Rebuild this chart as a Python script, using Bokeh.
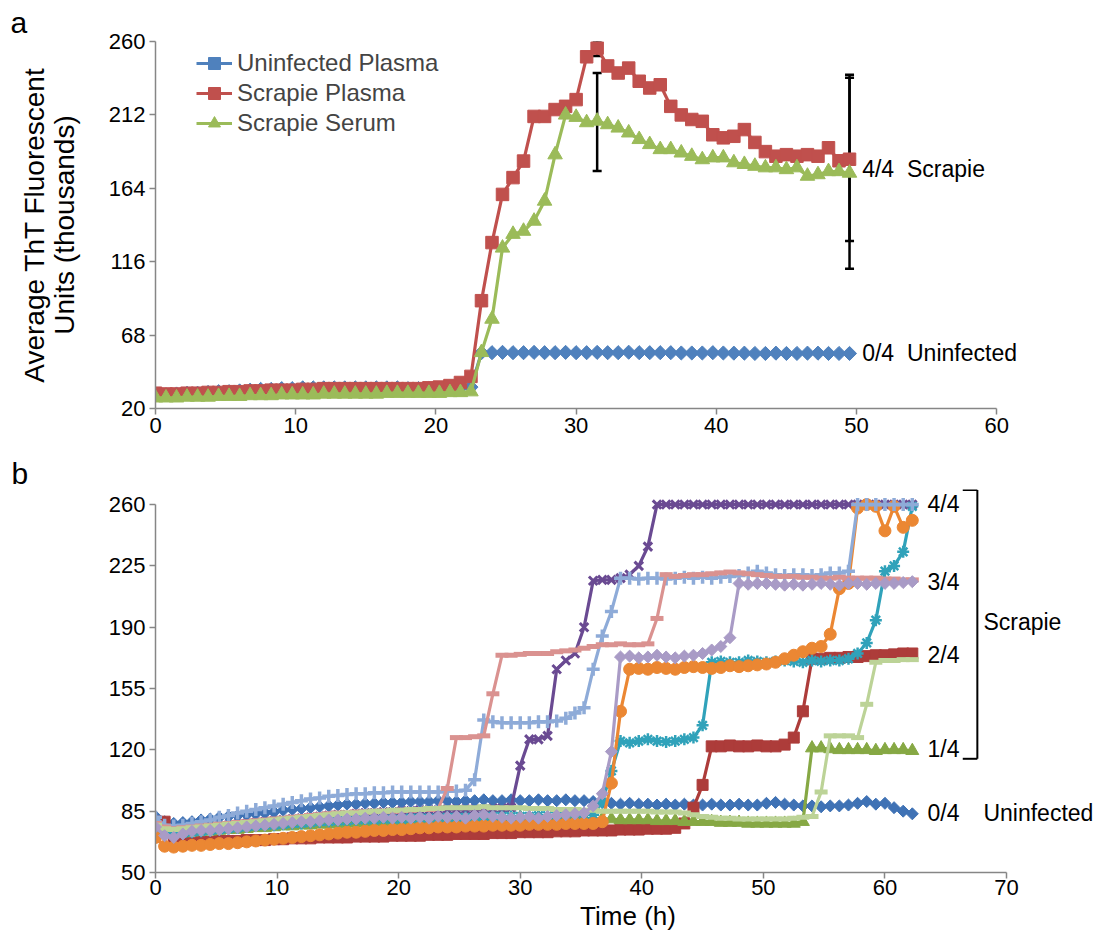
import numpy as np
from bokeh.plotting import figure
from bokeh.layouts import column
from bokeh.models import (Range1d, FixedTicker, Label, Whisker, TeeHead, ColumnDataSource, Arrow,
                          Title)
from bokeh.embed import file_html
from bokeh.resources import INLINE

FONT = "Liberation Sans"

# ---------------- Panel a data (sampled every 0.75 h) ----------------
time_a = [round(0.75 * i, 2) for i in range(67)]
uninfected_plasma = [29, 29, 29.5, 30, 30, 30.5, 31, 31, 31.5, 32, 32.5, 32.5, 33, 33, 33.5, 33.5, 33.5, 33.5, 33.5, 33.5,
                     33.5, 33.5, 33.5, 33.5, 33, 33, 33, 33, 33, 33.5, 34,
                     56.5, 56.5, 56.7, 56.5, 56.5, 56.7, 56.5, 56.5, 56.7, 56.5, 56.5, 56.7, 56.5, 56.5, 56.8, 56.5,
                     56.5, 56.5, 56.5, 56.3, 56.3, 56.3, 56.5, 56.3, 56.2, 56.2, 56, 56, 56.2, 56, 56, 56.2, 56.2, 56, 56, 56]
scrapie_plasma = [30, 29.5, 29.5, 30, 30, 30.5, 30.5, 31, 31, 31.5, 31.5, 32, 32, 32, 32.5, 32.5, 33, 33, 33, 33,
                  33, 33, 33, 33, 33, 33, 33.5, 34, 35, 37, 41,
                  90.5, 128.5, 160, 171, 181.8, 211, 211, 215.5, 217.6, 222, 250, 255.7, 244, 239.4, 242.6, 234,
                  229.6, 231.7, 217.6, 212, 209, 207.8, 199, 197, 198, 202.4, 194, 188, 185, 186, 185, 186, 185,
                  190.5, 182, 183]
scrapie_serum = [27, 27, 27, 27.5, 27.5, 27.5, 28, 28, 28, 28.5, 28.5, 28.5, 29, 29, 29, 29, 29.5, 29.5, 29.5, 29.5,
                 29.5, 29.5, 30, 30, 30, 30, 30, 30, 30.5, 30.5, 31,
                 56.7, 78.5, 125, 134, 136, 142.6, 155.7, 186, 212, 210.5, 207, 208, 205.7, 203.5, 200.3, 196,
                 192.7, 189.4, 189.4, 187.2, 185, 182.8, 184, 184, 180.8, 179.7, 178.5, 177.5, 177.5, 176.3, 177.5,
                 172, 173, 175, 175, 174]
err_time = [31.5, 31.5, 49.5, 49.5]
err_lower = [175.3, 250.5, 129.6, 111.4]
err_upper = [239.4, 260.0, 238.3, 236.3]
yticks_a = [20, 68, 116, 164, 212, 260]
xticks_a = [0, 10, 20, 30, 40, 50, 60]

# ---------------- Panel b data (sampled every 0.75 h) ----------------
time_b = [round(0.75 * i, 2) for i in range(84)]
s1 = [82, 79, 78, 78.5, 79, 80, 80.5, 81.5, 82, 82.5,
      83, 83.5, 84, 84.5, 85.5, 86, 86.5, 87, 87.5, 88,
      88.5, 89, 89, 89.5, 89.5, 90, 90, 90, 90.5, 90.5,
      90.5, 91, 91, 90.5, 91, 91, 91.5, 91, 91, 91.5,
      91, 91, 91.5, 91, 91, 91.5, 91, 91, 90.5, 90,
      89.5, 89, 89.5, 89, 89, 88.5, 89, 88.5, 89, 88.5,
      88.5, 89, 88.5, 88.5, 89, 88.5, 88.5, 89.5, 90, 89,
      88.5, 88, 88, 87.5, 88, 88, 88.5, 89.5, 90.5, 89,
      89.5, 87, 85, 83.5]
s2 = [79, 79, 68, 67, 67, 67.5, 67.5, 68, 68, 68,
      68.5, 68.5, 68.5, 69, 69, 69.5, 69.5, 69.5, 70, 70,
      70, 70, 70.5, 70.5, 70.5, 70.5, 71, 71, 71, 71,
      71.5, 71.5, 71.5, 72, 72, 72, 72, 72.5, 72.5, 72.5,
      73, 73, 73, 73, 73.5, 73.5, 73.5, 74, 74, 74,
      74, 74.5, 74.5, 74.5, 75, 75, 75, 75.5, 78, 87,
      100, 122, 122, 122.5, 122, 122, 122.5, 122, 122, 123,
      127, 142, 172, 172, 172.5, 172.5, 173, 173, 173.5, 174,
      174, 174.5, 175, 175]
s3 = [77, 74, 72.5, 72.5, 73, 73.5, 73.5, 74, 74.5, 74.5,
      75, 75.5, 75.5, 76, 76.5, 76.5, 77, 77, 77.5, 77.5,
      78, 78, 78.5, 78.5, 79, 79, 79, 79.5, 79.5, 80,
      80, 80, 80.5, 80.5, 80.5, 81, 81, 81, 81, 81,
      81.5, 81.5, 81.5, 81.5, 81, 81, 81, 81, 80.5, 80.5,
      80.5, 80, 80, 80, 80, 79.5, 79.5, 79.5, 79, 79,
      79, 79, 78.5, 78.5, 78.5, 78, 78, 78, 78, 78,
      78, 79, 121, 121, 120.5, 120, 120, 120, 120, 119.5,
      120, 120, 120, 119.5]
s4 = [76, 74, 73, 73.5, 74.5, 75, 75.5, 76.5, 77, 77.5,
      78, 78.5, 79, 79.5, 80, 80.5, 81, 81.5, 82, 82.5,
      83, 83, 83.5, 84, 84, 84.5, 84.5, 85, 85, 85.5,
      85.5, 85.5, 86, 86, 86, 86, 86, 86.5, 86.5, 87,
      111, 126, 126, 128, 166, 171, 175, 190, 216.5, 217,
      217, 218, 220, 225, 236, 260, 260, 260, 260, 260,
      260, 260, 260, 260, 260, 260, 260, 260, 260, 260,
      260, 260, 260, 260, 260, 260, 260, 260, 260, 260,
      260, 260, 260, 260]
s5 = [75, 73, 72, 72.5, 73, 73.5, 74, 74.5, 75, 75.5,
      76, 76.5, 77, 77, 77.5, 78, 78, 78.5, 79, 79,
      79.5, 79.5, 80, 80, 80, 80.5, 80.5, 80.5, 81, 81,
      81, 81, 81.5, 81.5, 81.5, 81.5, 82, 82, 82, 82,
      82, 82, 82.5, 82.5, 82.5, 82.5, 82.5, 83, 83, 90,
      108, 125, 124, 125, 126, 125, 124.5, 125, 126, 127,
      134, 170, 170.5, 170, 170, 171, 170.5, 170, 170.5, 171,
      170.5, 170, 171, 170.5, 171, 171, 172, 175, 181, 194,
      222, 225, 233, 259]
s6 = [70, 65, 64.5, 65, 65.5, 65.5, 66, 66.5, 66.5, 67,
      67.5, 68, 68.5, 69, 69.5, 70, 70.5, 71, 71.5, 72,
      72.5, 73, 73, 73.5, 74, 74, 74.5, 74.5, 75, 75.5,
      75.5, 76, 76, 76, 76.5, 76.5, 76.5, 77, 77, 77,
      77, 77.5, 77.5, 77.5, 77.5, 78, 78, 78, 78, 79,
      101, 142, 166, 166.5, 166, 167, 166.5, 166, 167, 167.5,
      167, 166.5, 167, 168, 167.5, 168, 168.5, 169, 170, 172,
      174, 176, 178, 179, 186, 212, 215, 258, 260, 259,
      245, 259, 247, 251]
s7 = [81.5, 77, 76.5, 77, 78, 79, 80, 81.5, 82.5, 84,
      85, 86, 87, 88, 89, 90, 91, 92, 92.5, 93.5,
      94, 94.5, 95, 95, 95.5, 95.5, 96, 96, 96, 96,
      96, 96, 96.5, 96.5, 97, 103, 137, 136, 135.5, 135.5,
      135.5, 135.5, 136, 136, 136.5, 138, 141, 144, 166, 185,
      199, 218, 218, 217.5, 218, 218, 217.5, 218, 218.5, 218,
      218.5, 218, 218.5, 219, 219.5, 221, 222, 221, 220, 219.5,
      220, 220, 219.5, 220, 221, 221, 222, 260, 260, 260,
      260, 260, 260, 260]
s8 = [78, 76, 75, 75.5, 76, 76.5, 77, 77.5, 78, 78.5,
      79, 79.5, 80, 80.5, 81, 81.5, 82, 82.5, 83, 83.5,
      84, 84, 84.5, 84.5, 85, 85, 85, 85.5, 85.5, 86,
      86, 86.5, 98, 127, 127, 127.5, 128, 152, 174, 174,
      174.5, 175, 175, 175, 176, 176.5, 177, 178, 179, 180,
      180, 180.5, 180, 180, 180.5, 195, 220, 219, 219.5, 220,
      220, 220.5, 221, 221.5, 221, 220.5, 220, 219.5, 219, 219,
      219, 218.5, 218.5, 218, 218, 218.5, 218, 218, 218, 218,
      217.5, 217.5, 217, 217]
s9 = [77, 75, 74.5, 75, 75.5, 76, 76.5, 77, 77.5, 78,
      78.5, 79, 79.5, 80, 80.5, 81, 81.5, 82, 82.5, 83,
      83.5, 84, 84, 84.5, 85, 85, 85.5, 85.5, 86, 86,
      86.5, 86.5, 87, 87, 87, 87, 87.5, 87, 87, 87,
      87, 86.5, 86.5, 86.5, 86, 86, 86, 85.5, 85.5, 85,
      85, 85, 85, 85, 85, 84.5, 84.5, 84.5, 84, 83,
      82, 81.5, 81, 81, 80.5, 80.5, 80.5, 80.5, 80.5, 80.5,
      81, 81.5, 82, 96, 128, 128, 128, 127, 146, 170,
      171, 171, 171.5, 171.5]
s10 = [76, 71, 70, 72, 73.5, 74, 74, 74.5, 75, 75.5,
       76, 76.5, 77, 77.5, 78, 78.5, 79, 79, 79.5, 80,
       80, 80.5, 80.5, 81, 81, 81.5, 81, 81.5, 81, 81.5,
       81, 82, 81.5, 82, 81, 82.5, 83, 82, 81.5, 81,
       81.5, 82, 81, 82, 82.5, 83, 83.5, 84, 88, 95,
       119, 173, 173.5, 172.5, 173, 174, 173, 172.5, 173.5, 174,
       175, 177, 179, 184, 215, 214.5, 215, 215, 214.5, 214,
       214.5, 214, 214.5, 215, 214.5, 214, 215, 215, 214.5, 215,
       215, 215, 215.5, 216]
yticks_b = [50, 85, 120, 155, 190, 225, 260]
xticks_b = [0, 10, 20, 30, 40, 50, 60, 70]
frac_labels = ["4/4", "3/4", "2/4", "1/4", "0/4"]
frac_y = [260.5, 215.7, 173.9, 120.6, 83.7]

AXIS_GREY = "#868686"


def style_axes(p, tick_size):
    for ax in (p.xaxis, p.yaxis):
        ax.axis_line_color = AXIS_GREY
        ax.axis_line_width = 1.5
        ax.major_tick_line_color = AXIS_GREY
        ax.major_tick_line_width = 1.5
        ax.major_tick_out = 6
        ax.major_tick_in = 0
        ax.minor_tick_line_color = None
        ax.major_label_text_font = FONT
        ax.major_label_text_font_size = tick_size
        ax.major_label_text_color = "black"
        ax.axis_label_text_font = FONT
        ax.axis_label_text_font_style = "normal"
        ax.axis_label_text_color = "black"
    p.xgrid.visible = False
    p.ygrid.visible = False
    p.outline_line_color = None
    p.background_fill_color = "white"


# ---------------- Panel a ----------------
# frame: x 155..1100 px (0..67.4 h, axis drawn 0..60), y 40..408 px (20..260)
p1 = figure(width=1100, height=453, x_range=Range1d(0, 67.4), y_range=Range1d(20, 260),
            output_backend="svg", toolbar_location=None,
            min_border_left=155, min_border_right=0, min_border_top=40, min_border_bottom=45)
style_axes(p1, "22px")
p1.xaxis.ticker = FixedTicker(ticks=xticks_a)
p1.xaxis.bounds = (0, 60)
p1.yaxis.ticker = FixedTicker(ticks=yticks_a)
p1.xaxis.major_label_standoff = 3
p1.yaxis.major_label_standoff = 4
p1.yaxis.axis_label = "Average ThT Fluorescent\nUnits (thousands)"
p1.yaxis.axis_label_text_font_size = "28px"
p1.yaxis.axis_label_text_line_height = 0.95
p1.yaxis.axis_label_standoff = 26

series_a = [
    ("Uninfected Plasma", uninfected_plasma, "#4F81BD", "square", 10, np.pi / 4),
    ("Scrapie Plasma", scrapie_plasma, "#C0504D", "square", 12.5, 0),
    ("Scrapie Serum", scrapie_serum, "#9BBB59", "triangle", 14.5, 0),
]
for name, ys, col, mk, sz, ang in series_a:
    p1.line(time_a, ys, line_color=col, line_width=3.2, legend_label=name)
    p1.scatter(time_a, ys, marker=mk, size=sz, angle=ang, fill_color=col, line_color=col,
               legend_label=name)

err_src = ColumnDataSource(dict(base=err_time, lower=err_lower, upper=err_upper))
p1.add_layout(Whisker(source=err_src, base="base", lower="lower", upper="upper",
                      line_color="black", line_width=2.5,
                      upper_head=TeeHead(size=9, line_color="black", line_width=2.5),
                      lower_head=TeeHead(size=9, line_color="black", line_width=2.5)))

lg = p1.legend[0]
lg.location = (41, 270)
lg.margin = 0
lg.padding = 4
lg.spacing = 0
lg.glyph_width = 36
lg.glyph_height = 30
lg.label_height = 30
lg.label_standoff = 5
lg.label_text_font = FONT
lg.label_text_font_size = "24px"
lg.background_fill_alpha = 0
lg.border_line_color = None

for txt, x, y in [("4/4", 50.4, 176.6), ("Scrapie", 53.6, 176.6),
                  ("0/4", 50.4, 56.5), ("Uninfected", 53.6, 56.5)]:
    p1.add_layout(Label(x=x, y=y, text=txt, text_font=FONT, text_font_size="23px",
                        text_baseline="middle", text_align="left", text_color="black"))
p1.add_layout(Title(text="a", align="left", offset=-145, standoff=6, text_font=FONT,
                    text_font_size="30px", text_font_style="normal", text_color="black"), "above")

# ---------------- Panel b ----------------
# frame: x 154..1100 px (0..77.73 h, axis 0..70), y 489..872 px (50..268.6, axis 50..260)
p2 = figure(width=1100, height=483, x_range=Range1d(0, 77.73), y_range=Range1d(50, 268.6),
            output_backend="svg", toolbar_location=None,
            min_border_left=154, min_border_right=0, min_border_top=36, min_border_bottom=64)
style_axes(p2, "22px")
p2.xaxis.ticker = FixedTicker(ticks=xticks_b)
p2.xaxis.bounds = (0, 70)
p2.yaxis.ticker = FixedTicker(ticks=yticks_b)
p2.yaxis.bounds = (50, 260)
p2.xaxis.major_label_standoff = 1
p2.yaxis.major_label_standoff = 4
p2.xaxis.axis_label = "Time (h)"
p2.xaxis.axis_label_text_font_size = "26px"
p2.xaxis.axis_label_standoff = 3

series_b = [
    (s1, "#3F72B5", "square", 8.5, np.pi / 4, 1),
    (s2, "#AD3C3A", "square", 11, 0, 1),
    (s3, "#86A844", "triangle", 13, 0, 1),
    (s4, "#6A4A92", "x", 12, 0, 3),
    (s5, "#30A2BA", "asterisk", 12, 0, 2.5),
    (s6, "#EB8733", "circle", 12, 0, 1),
    (s7, "#8EABD8", "cross", 13, 0, 3.5),
    (s8, "#DA9290", "dash", 13, 0, 5),
    (s9, "#BCD397", "dash", 13, 0, 5),
    (s10, "#A99BC6", "square", 8.5, np.pi / 4, 1),
]
for ys, col, mk, sz, ang, lw in series_b:
    p2.line(time_b, ys, line_color=col, line_width=3.2)
    p2.scatter(time_b, ys, marker=mk, size=sz, angle=ang, fill_color=col, line_color=col,
               line_width=lw)

for txt, y in zip(frac_labels, frac_y):
    p2.add_layout(Label(x=63.5, y=y, text=txt, text_font=FONT, text_font_size="23px",
                        text_baseline="middle", text_align="left", text_color="black"))
p2.add_layout(Label(x=68.1, y=192.9, text="Scrapie", text_font=FONT, text_font_size="23px",
                    text_baseline="middle", text_align="left", text_color="black"))
p2.add_layout(Label(x=68.1, y=83.7, text="Uninfected", text_font=FONT, text_font_size="23px",
                    text_baseline="middle", text_align="left", text_color="black"))
p2.add_layout(Title(text="b", align="left", offset=-144, standoff=0, text_font=FONT,
                    text_font_size="30px", text_font_style="normal", text_color="black"), "above")

bracket_x = 67.6
bracket_tick_x = 66.4
bracket_top = 268.3
bracket_bottom = 114.9
for xs, ys, xe, ye in [(bracket_x, bracket_top, bracket_x, bracket_bottom),
                       (bracket_tick_x, bracket_top, bracket_x, bracket_top),
                       (bracket_tick_x, bracket_bottom, bracket_x, bracket_bottom)]:
    p2.add_layout(Arrow(x_start=xs, y_start=ys, x_end=xe, y_end=ye, end=None,
                        line_color="black", line_width=2))

layout = column(p1, p2)
open("out.html", "w").write(file_html(layout, INLINE))
